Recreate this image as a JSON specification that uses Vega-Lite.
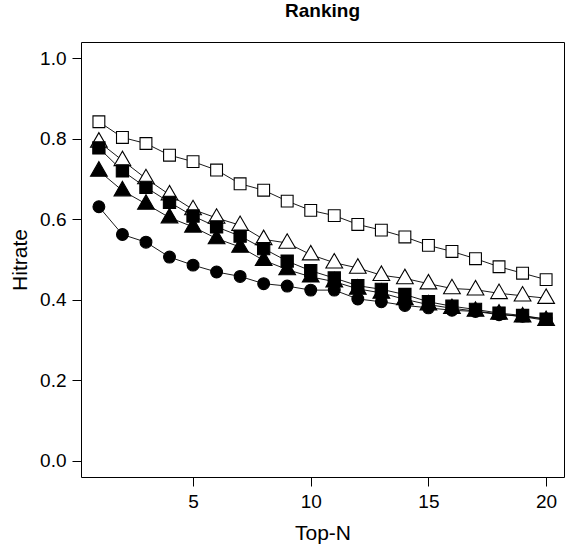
{
  "$schema": "https://vega.github.io/schema/vega-lite/v6.json",
  "autosize": {"type": "none"},
  "width": 483,
  "height": 435,
  "padding": {"left": 81, "top": 42, "right": 9, "bottom": 75},
  "background": "white",
  "title": {"text": "Ranking", "fontSize": 19, "fontWeight": "bold", "font": "Liberation Sans", "color": "black", "anchor": "middle", "offset": 21},
  "config": {
    "view": {"stroke": "black", "strokeWidth": 1},
    "font": "Liberation Sans",
    "axis": {"grid": false, "domain": false, "tickColor": "black", "tickSize": 9, "labelColor": "black", "titleColor": "black", "labelFontSize": 19, "titleFontSize": 21, "titleFontWeight": "normal", "labelFont": "Liberation Sans", "titleFont": "Liberation Sans"},
    "legend": {"orient": "top-right", "offset": 0, "strokeColor": "black", "fillColor": "white", "padding": 14,
               "labelFontSize": 20, "labelFont": "Liberation Sans", "labelColor": "black",
               "symbolSize": 120, "symbolStrokeColor": "black", "symbolStrokeWidth": 1,
               "rowPadding": 6, "labelOffset": 12}
  },
  "data": {"values": [
    {"n":1,"series":"Org","hit":0.842},{"n":2,"series":"Org","hit":0.803},{"n":3,"series":"Org","hit":0.788},{"n":4,"series":"Org","hit":0.759},{"n":5,"series":"Org","hit":0.743},{"n":6,"series":"Org","hit":0.722},{"n":7,"series":"Org","hit":0.688},{"n":8,"series":"Org","hit":0.672},{"n":9,"series":"Org","hit":0.645},{"n":10,"series":"Org","hit":0.622},{"n":11,"series":"Org","hit":0.609},{"n":12,"series":"Org","hit":0.587},{"n":13,"series":"Org","hit":0.573},{"n":14,"series":"Org","hit":0.556},{"n":15,"series":"Org","hit":0.535},{"n":16,"series":"Org","hit":0.520},{"n":17,"series":"Org","hit":0.502},{"n":18,"series":"Org","hit":0.482},{"n":19,"series":"Org","hit":0.466},{"n":20,"series":"Org","hit":0.450},
    {"n":1,"series":"All","hit":0.792},{"n":2,"series":"All","hit":0.746},{"n":3,"series":"All","hit":0.701},{"n":4,"series":"All","hit":0.661},{"n":5,"series":"All","hit":0.624},{"n":6,"series":"All","hit":0.603},{"n":7,"series":"All","hit":0.585},{"n":8,"series":"All","hit":0.550},{"n":9,"series":"All","hit":0.541},{"n":10,"series":"All","hit":0.512},{"n":11,"series":"All","hit":0.492},{"n":12,"series":"All","hit":0.479},{"n":13,"series":"All","hit":0.461},{"n":14,"series":"All","hit":0.453},{"n":15,"series":"All","hit":0.440},{"n":16,"series":"All","hit":0.428},{"n":17,"series":"All","hit":0.425},{"n":18,"series":"All","hit":0.416},{"n":19,"series":"All","hit":0.410},{"n":20,"series":"All","hit":0.404},
    {"n":1,"series":"Churn","hit":0.777},{"n":2,"series":"Churn","hit":0.720},{"n":3,"series":"Churn","hit":0.679},{"n":4,"series":"Churn","hit":0.642},{"n":5,"series":"Churn","hit":0.608},{"n":6,"series":"Churn","hit":0.581},{"n":7,"series":"Churn","hit":0.558},{"n":8,"series":"Churn","hit":0.527},{"n":9,"series":"Churn","hit":0.496},{"n":10,"series":"Churn","hit":0.472},{"n":11,"series":"Churn","hit":0.454},{"n":12,"series":"Churn","hit":0.435},{"n":13,"series":"Churn","hit":0.426},{"n":14,"series":"Churn","hit":0.413},{"n":15,"series":"Churn","hit":0.395},{"n":16,"series":"Churn","hit":0.384},{"n":17,"series":"Churn","hit":0.376},{"n":18,"series":"Churn","hit":0.367},{"n":19,"series":"Churn","hit":0.361},{"n":20,"series":"Churn","hit":0.352},
    {"n":1,"series":"Dependency","hit":0.720},{"n":2,"series":"Dependency","hit":0.671},{"n":3,"series":"Dependency","hit":0.638},{"n":4,"series":"Dependency","hit":0.604},{"n":5,"series":"Dependency","hit":0.581},{"n":6,"series":"Dependency","hit":0.552},{"n":7,"series":"Dependency","hit":0.531},{"n":8,"series":"Dependency","hit":0.498},{"n":9,"series":"Dependency","hit":0.475},{"n":10,"series":"Dependency","hit":0.457},{"n":11,"series":"Dependency","hit":0.445},{"n":12,"series":"Dependency","hit":0.427},{"n":13,"series":"Dependency","hit":0.417},{"n":14,"series":"Dependency","hit":0.401},{"n":15,"series":"Dependency","hit":0.388},{"n":16,"series":"Dependency","hit":0.379},{"n":17,"series":"Dependency","hit":0.372},{"n":18,"series":"Dependency","hit":0.365},{"n":19,"series":"Dependency","hit":0.358},{"n":20,"series":"Dependency","hit":0.349},
    {"n":1,"series":"Complexity","hit":0.631},{"n":2,"series":"Complexity","hit":0.562},{"n":3,"series":"Complexity","hit":0.543},{"n":4,"series":"Complexity","hit":0.506},{"n":5,"series":"Complexity","hit":0.486},{"n":6,"series":"Complexity","hit":0.469},{"n":7,"series":"Complexity","hit":0.458},{"n":8,"series":"Complexity","hit":0.440},{"n":9,"series":"Complexity","hit":0.434},{"n":10,"series":"Complexity","hit":0.424},{"n":11,"series":"Complexity","hit":0.424},{"n":12,"series":"Complexity","hit":0.402},{"n":13,"series":"Complexity","hit":0.395},{"n":14,"series":"Complexity","hit":0.386},{"n":15,"series":"Complexity","hit":0.380},{"n":16,"series":"Complexity","hit":0.374},{"n":17,"series":"Complexity","hit":0.371},{"n":18,"series":"Complexity","hit":0.363},{"n":19,"series":"Complexity","hit":0.359},{"n":20,"series":"Complexity","hit":0.352}
  ]},
  "encoding": {
    "x": {"field": "n", "type": "quantitative", "title": "Top-N",
          "scale": {"domain": [0.24, 20.76], "nice": false, "zero": false},
          "axis": {"values": [5, 10, 15, 20], "labelPadding": 6, "titlePadding": 11}},
    "y": {"field": "hit", "type": "quantitative", "title": "Hitrate",
          "scale": {"domain": [-0.04, 1.04], "nice": false, "zero": false},
          "axis": {"values": [0, 0.2, 0.4, 0.6, 0.8, 1.0], "format": ".1f", "labelPadding": 6, "titlePadding": 9}}
  },
  "layer": [
    {
      "mark": {"type": "line", "color": "black", "strokeWidth": 0.9},
      "encoding": {"detail": {"field": "series", "type": "nominal"}}
    },
    {
      "encoding": {
        "shape": {"field": "series", "type": "nominal", "title": null,
                  "scale": {"domain": ["Org", "All", "Churn", "Dependency", "Complexity"], "range": ["square", "triangle-up", "square", "triangle-up", "circle"]}},
        "fill": {"field": "series", "type": "nominal", "title": null,
                 "scale": {"domain": ["Org", "All", "Churn", "Dependency", "Complexity"], "range": ["white", "white", "black", "black", "black"]}},
        "size": {"field": "series", "type": "nominal",
                 "scale": {"type": "ordinal", "domain": ["Org", "All", "Churn", "Dependency", "Complexity"], "range": [140, 280, 150, 280, 140]},
                 "legend": null}
      },
      "layer": [
        {"transform": [{"filter": "datum.series === 'Org'"}],
         "mark": {"type": "point", "filled": true, "stroke": "black", "strokeWidth": 1.1, "opacity": 1}},
        {"transform": [{"filter": "datum.series === 'All'"}],
         "mark": {"type": "point", "filled": true, "stroke": "black", "strokeWidth": 1.1, "opacity": 1, "yOffset": -2}},
        {"transform": [{"filter": "datum.series === 'Churn'"}],
         "mark": {"type": "point", "filled": true, "stroke": "black", "strokeWidth": 1.1, "opacity": 1}},
        {"transform": [{"filter": "datum.series === 'Dependency'"}],
         "mark": {"type": "point", "filled": true, "stroke": "black", "strokeWidth": 1.1, "opacity": 1, "yOffset": -2}},
        {"transform": [{"filter": "datum.series === 'Complexity'"}],
         "mark": {"type": "point", "filled": true, "stroke": "black", "strokeWidth": 1.1, "opacity": 1}}
      ]
    }
  ]
}
